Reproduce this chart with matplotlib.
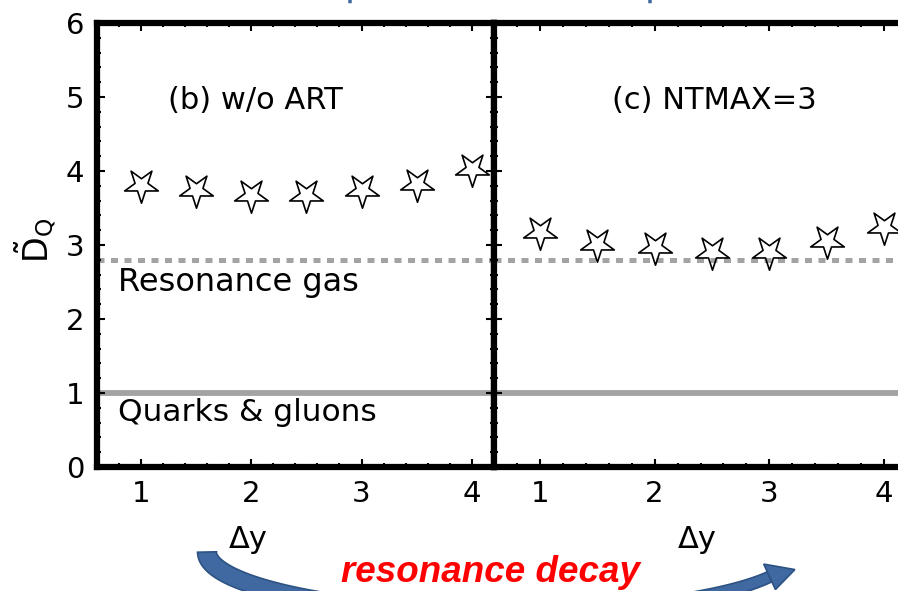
import numpy as np
import matplotlib
matplotlib.use("Agg")
import matplotlib.pyplot as plt
from matplotlib.ticker import MultipleLocator
from matplotlib.patches import Polygon
from matplotlib.path import Path

plt.rcParams['font.family'] = ['DejaVu Sans']
plt.rcParams['mathtext.fontset'] = 'custom'
plt.rcParams['mathtext.rm'] = 'DejaVu Sans'

# rapidity window and normalized charge fluctuations
dy = [1.0, 1.5, 2.0, 2.5, 3.0, 3.5, 4.0]
d_wo_art = [3.81, 3.74, 3.67, 3.67, 3.74, 3.83, 4.03]
d_ntmax3 = [3.17, 3.02, 2.97, 2.90, 2.90, 3.06, 3.24]
resonance_gas = 2.8
quarks_gluons = 1.0

panel_titles = ["(b) w/o ART", "(c) NTMAX=3"]
xticks = [1, 2, 3, 4]
yticks = [0, 1, 2, 3, 4, 5, 6]

W, H = 898, 591
fig = plt.figure(figsize=(W / 100, H / 100), dpi=100)

def box(x0, x1, y0, y1):
    return [x0 / W, 1 - y1 / H, (x1 - x0) / W, (y1 - y0) / H]

# open five-pointed star standing on one point
ang_out = np.deg2rad(-90 + 72 * np.arange(5))
ang_in = ang_out + np.deg2rad(36)
verts = []
for ao, ai in zip(ang_out, ang_in):
    verts.append((np.cos(ao), np.sin(ao)))
    verts.append((0.382 * np.cos(ai), 0.382 * np.sin(ai)))
verts.append(verts[0])
star = Path(verts, closed=True)

axL = fig.add_axes(box(96.5, 494, 23, 467))
axR = fig.add_axes(box(494, 907, 23, 467))

gray = '#a3a3a3'
for ax, vals, title, tx in [(axL, d_wo_art, panel_titles[0], 2.04),
                            (axR, d_ntmax3, panel_titles[1], 2.52)]:
    ax.set_xlim(0.6, 4.2)
    ax.set_ylim(0, 6)
    ax.set_xticks(xticks)
    ax.set_yticks(yticks)
    ax.xaxis.set_minor_locator(MultipleLocator(0.2))
    ax.yaxis.set_minor_locator(MultipleLocator(0.2))
    ax.tick_params(which='both', direction='in', top=True, right=True,
                   width=1.5, colors='black', labelsize=21)
    ax.tick_params(which='major', length=6, pad=9)
    ax.tick_params(which='minor', length=3)
    for s in ax.spines.values():
        s.set_linewidth(4.5)
    ax.axhline(resonance_gas, color=gray, lw=3.6, ls=(0, (1.4, 1.3)),
               dash_capstyle='butt', zorder=1)
    ax.axhline(quarks_gluons, color=gray, lw=4.2, zorder=1)
    ax.plot(dy, vals, ls='none', marker=star, ms=25.5,
            mfc='none', mec='black', mew=1.2, zorder=3, clip_on=False)
    ax.text(tx, 4.95, title, ha='center', va='center', fontsize=22)

axR.tick_params(labelleft=False)

axL.text(0.795, 2.5, "Resonance gas", ha='left', va='center', fontsize=23)
axL.text(0.795, 0.73, "Quarks & gluons", ha='left', va='center', fontsize=22.5)

fig.text(36 / W, 1 - 240 / H, r'$\tilde{\mathrm{D}}_{\mathrm{Q}}$', rotation=90,
         ha='center', va='center', fontsize=24)
fig.text(248 / W, 1 - 540 / H, "Δy", ha='center', va='center', fontsize=22)
fig.text(697 / W, 1 - 540 / H, "Δy", ha='center', va='center', fontsize=22)

fig.text(491 / W, 1 - 572 / H, "resonance decay", ha='center', va='center',
         fontsize=26.5, color='#ff0000', fontweight='bold', fontstyle='italic',
         family=['Liberation Sans', 'DejaVu Sans'])

# curved decay arrow under the panels, drawn in pixel space
ov = fig.add_axes([0, 0, 1, 1], zorder=-1)
ov.set_xlim(0, W)
ov.set_ylim(H, 0)
ov.axis('off')

blue = '#3f69a0'
edge = '#2d5283'
cx, cy, a, b = 501.0, 552.0, 294.0, 61.0
th = np.deg2rad(np.linspace(180, 24, 300))
pts = np.stack([cx + a * np.cos(th), cy + b * np.sin(th)], axis=1)
d = np.gradient(pts, axis=0)
d /= np.linalg.norm(d, axis=1)[:, None]
nrm = np.stack([-d[:, 1], d[:, 0]], axis=1)
wid = np.linspace(9.5, 5.5, len(th))
body = np.vstack([pts + nrm * wid[:, None], (pts - nrm * wid[:, None])[::-1]])
ov.add_patch(Polygon(body, closed=True, fc=blue, ec=edge, lw=1.2))
base = pts[-1]
dd = d[-1]
nn = nrm[-1]
head = np.array([base + dd * 26 + nn * 4, base + nn * 14, base - nn * 14])
ov.add_patch(Polygon(head, closed=True, fc=blue, ec=edge, lw=1.2, joinstyle='miter'))

# ends of the arrow arching above the figure
tt = np.deg2rad(np.linspace(180, 360, 200))
ov.plot(500 + 150 * np.cos(tt), 1.5 + 80 * np.sin(tt), color=blue, lw=2.5)

fig.savefig("out.png", dpi=100)
